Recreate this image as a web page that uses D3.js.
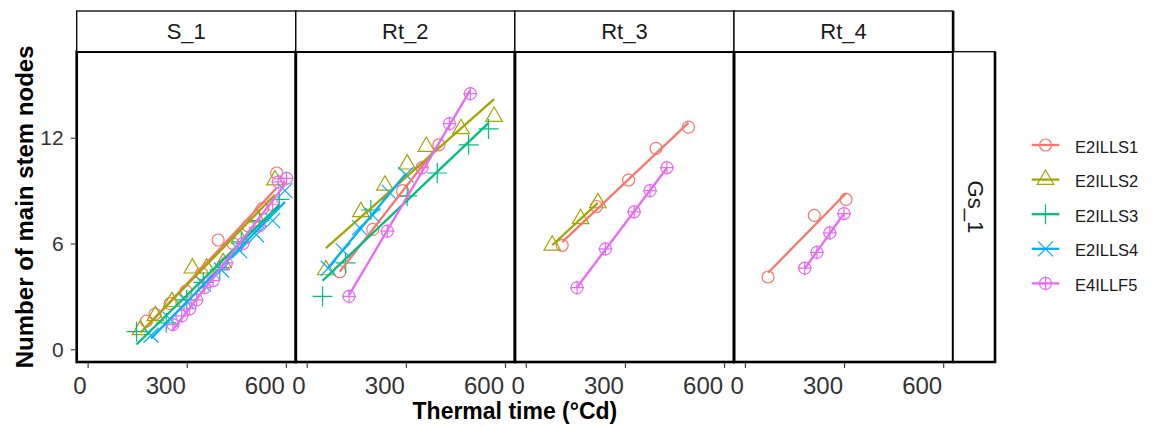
<!DOCTYPE html>
<html>
<head>
<meta charset="utf-8">
<script src="https://cdn.jsdelivr.net/npm/d3@7"></script>
<style>
  body { margin: 0; background: #fff; }
  svg { display: block; }
  text { font-family: "Liberation Sans", Arial, sans-serif; }
</style>
</head>
<body>
<div id="chart"></div>
<script>
// facet labels, series and ticks
var panels = ["S_1", "Rt_2", "Rt_3", "Rt_4"];
var rowLabel = "Gs_1";
var seriesNames = ["E2ILLS1", "E2ILLS2", "E2ILLS3", "E2ILLS4", "E4ILLF5"];
var xTicks = [0, 300, 600];
var yTicks = [0, 6, 12];

// thermal time (x) and main stem nodes (y), one inner list per series, per panel
var ttS1 = [
  [178, 204, 250, 298, 345, 395, 440, 486, 530, 572],
  [160, 205, 255, 317, 360, 410, 460, 510, 567],
  [148, 238, 300, 350, 400, 465, 520, 580],
  [192, 250, 300, 350, 405, 460, 511, 560, 597],
  [258, 285, 309, 330, 354, 380, 420, 470, 520, 560, 577, 602]
];
var nodesS1 = [
  [1.6, 2.0, 2.6, 3.3, 4.3, 6.2, 6.0, 7.0, 8.0, 10.0],
  [1.1, 1.9, 2.7, 4.6, 4.6, 4.9, 6.3, 7.5, 9.6],
  [1.0, 1.5, 2.8, 3.8, 4.5, 6.1, 7.3, 8.5],
  [0.8, 1.7, 2.7, 3.7, 4.5, 5.6, 6.5, 7.3, 9.0],
  [1.4, 1.9, 2.3, 2.8, 3.5, 3.9, 4.9, 6.0, 7.0, 8.2, 9.5, 9.7]
];
var ttRt2 = [
  [100, 200, 290, 400],
  [58, 164, 237, 304, 362, 467, 567],
  [48, 118, 194, 304, 395, 490, 550],
  [65, 110, 160, 200, 250, 300],
  [128, 244, 349, 432, 495]
];
var nodesRt2 = [
  [4.4, 6.8, 9.0, 11.6],
  [4.5, 7.8, 9.3, 10.5, 11.5, 12.5, 13.2],
  [3.0, 4.9, 7.9, 8.7, 10.0, 11.6, 12.5],
  [4.6, 5.6, 6.9, 7.6, 8.9, 9.9],
  [3.0, 6.7, 10.3, 12.8, 14.5]
];
var ttRt3 = [
  [110, 214, 311, 394, 492],
  [80, 166, 218],
  [],
  [],
  [155, 241, 328, 376, 427]
];
var nodesRt3 = [
  [5.9, 8.1, 9.6, 11.4, 12.6],
  [5.9, 7.4, 8.3],
  [],
  [],
  [3.5, 5.7, 7.8, 9.0, 10.3]
];
var ttRt4 = [
  [70, 210, 306],
  [],
  [],
  [],
  [181, 218, 257, 300]
];
var nodesRt4 = [
  [4.1, 7.6, 8.5],
  [],
  [],
  [],
  [4.6, 5.5, 6.6, 7.7]
];

var ttAll = [ttS1, ttRt2, ttRt3, ttRt4];
var nodesAll = [nodesS1, nodesRt2, nodesRt3, nodesRt4];

var colors = ["#F8766D", "#A3A500", "#00BF7D", "#00B0F6", "#E76BF3"];
var shapes = ["circle", "triangle", "plus", "cross", "circleplus"];

var W = 1152, H = 427;
var panelLeft = 76.7, panelW = 219.1, panelTop = 51.7, panelBottom = 362;
var stripTop = 11, stripRight = 995;

var svg = d3.select("#chart").append("svg")
  .attr("width", W)
  .attr("height", H);

var y = d3.scaleLinear().domain([-0.72, 16.88]).range([panelBottom, panelTop]);

function drawShape(g, shape, color) {
  if (shape === "circle") {
    g.append("circle").attr("r", 6);
  } else if (shape === "triangle") {
    g.append("path").attr("d", "M0,-9.6L8.3,4.8L-8.3,4.8Z");
  } else if (shape === "plus") {
    g.append("path").attr("d", "M-10,0H10M0,-10V10");
  } else if (shape === "cross") {
    g.append("path").attr("d", "M-7.5,-7.5L7.5,7.5M-7.5,7.5L7.5,-7.5");
  } else {
    g.append("circle").attr("r", 6);
    g.append("path").attr("d", "M-7,0H7M0,-7V7");
  }
  g.selectAll("*")
    .attr("fill", "none")
    .attr("stroke", color)
    .attr("stroke-width", 1.2);
}

// simple linear fit, like geom_smooth(method = "lm")
function fit(xs, ys) {
  var mx = d3.mean(xs), my = d3.mean(ys);
  var sxy = d3.sum(xs, function(v, i) { return (v - mx) * (ys[i] - my); });
  var sxx = d3.sum(xs, function(v) { return (v - mx) * (v - mx); });
  var b = sxy / sxx, a = my - b * mx;
  var x0 = d3.min(xs), x1 = d3.max(xs);
  return [[x0, a + b * x0], [x1, a + b * x1]];
}

panels.forEach(function(name, p) {
  var left = panelLeft + p * panelW;
  var x = d3.scaleLinear().domain([-33, 630]).range([left, left + panelW]);

  var g = svg.append("g");
  var plot = g.append("g");

  // points
  seriesNames.forEach(function(s, i) {
    var xs = ttAll[p][i], ys = nodesAll[p][i];
    xs.forEach(function(v, k) {
      var pt = plot.append("g")
        .attr("transform", "translate(" + x(v) + "," + y(ys[k]) + ")");
      drawShape(pt, shapes[i], colors[i]);
    });
  });

  // fitted lines
  seriesNames.forEach(function(s, i) {
    var xs = ttAll[p][i], ys = nodesAll[p][i];
    if (xs.length < 2) return;
    var ends = fit(xs, ys);
    plot.append("path")
      .attr("d", d3.line().x(function(d) { return x(d[0]); }).y(function(d) { return y(d[1]); })(ends))
      .attr("fill", "none")
      .attr("stroke", colors[i])
      .attr("stroke-width", 2.3);
  });

  // panel border
  g.append("rect")
    .attr("x", left).attr("y", panelTop)
    .attr("width", panelW).attr("height", panelBottom - panelTop)
    .attr("fill", "none").attr("stroke", "#000").attr("stroke-width", 2.6);

  // strip
  g.append("rect")
    .attr("x", left).attr("y", stripTop)
    .attr("width", panelW).attr("height", panelTop - stripTop)
    .attr("fill", "#fff").attr("stroke", "#000").attr("stroke-width", 1.3);
  g.append("text")
    .attr("x", left + panelW / 2).attr("y", (stripTop + panelTop) / 2 + 8)
    .attr("text-anchor", "middle")
    .attr("font-size", 22)
    .attr("fill", "#1a1a1a")
    .text(name);

  // x axis, labels sit just left of their tick
  var xa = g.append("g")
    .attr("transform", "translate(0," + panelBottom + ")")
    .call(d3.axisBottom(x).tickValues(xTicks).tickSize(6).tickPadding(9).tickFormat(d3.format("d")));
  xa.select(".domain").remove();
  xa.selectAll("line").attr("stroke", "#333").attr("stroke-width", 1.1);
  xa.selectAll("text").attr("font-size", 24).attr("fill", "#333")
    .attr("text-anchor", "end").attr("x", -1.5)
    .attr("font-family", "Liberation Sans, Arial, sans-serif");
});

// thick right edge on last top strip
svg.append("line")
  .attr("x1", panelLeft + 4 * panelW).attr("x2", panelLeft + 4 * panelW)
  .attr("y1", stripTop).attr("y2", panelTop)
  .attr("stroke", "#000").attr("stroke-width", 2.6);

// row strip on the right
var rs = svg.append("g");
var rsLeft = panelLeft + 4 * panelW;
rs.append("rect")
  .attr("x", rsLeft).attr("y", panelTop)
  .attr("width", stripRight - rsLeft).attr("height", panelBottom - panelTop)
  .attr("fill", "#fff").attr("stroke", "#000").attr("stroke-width", 1.3);
rs.append("path")
  .attr("d", "M" + stripRight + "," + panelTop + "V" + panelBottom + "H" + rsLeft)
  .attr("fill", "none").attr("stroke", "#000").attr("stroke-width", 2.6);
rs.append("text")
  .attr("transform", "translate(" + ((rsLeft + stripRight) / 2 - 6) + "," + ((panelTop + panelBottom) / 2) + ") rotate(90)")
  .attr("text-anchor", "middle")
  .attr("font-size", 22)
  .attr("fill", "#1a1a1a")
  .text(rowLabel);

// y axis on first panel
var ya = svg.append("g")
  .attr("transform", "translate(" + panelLeft + ",0)")
  .call(d3.axisLeft(y).tickValues(yTicks).tickSize(6).tickPadding(7));
ya.select(".domain").remove();
ya.selectAll("line").attr("stroke", "#333").attr("stroke-width", 1.1);
ya.selectAll("text").attr("font-size", 21).attr("fill", "#333")
  .attr("font-family", "Liberation Sans, Arial, sans-serif");

// axis titles
svg.append("text")
  .attr("x", panelLeft + 2 * panelW).attr("y", 419)
  .attr("text-anchor", "middle")
  .attr("font-size", 23).attr("font-weight", "bold")
  .text("Thermal time (\u00B0Cd)");
svg.append("text")
  .attr("transform", "translate(33," + ((panelTop + panelBottom) / 2) + ") rotate(-90)")
  .attr("text-anchor", "middle")
  .attr("font-size", 24).attr("font-weight", "bold")
  .text("Number of main stem nodes");

// legend
var lg = svg.append("g");
seriesNames.forEach(function(s, i) {
  var ry = 145 + i * 34.6;
  lg.append("line")
    .attr("x1", 1031.7).attr("x2", 1059.3).attr("y1", ry).attr("y2", ry)
    .attr("stroke", colors[i]).attr("stroke-width", 2.3);
  var k = lg.append("g").attr("transform", "translate(1045.5," + ry + ")");
  drawShape(k, shapes[i], colors[i]);
  lg.append("text")
    .attr("x", 1075).attr("y", ry + 7.5)
    .attr("font-size", 16.5)
    .attr("fill", "#1a1a1a")
    .text(s);
});
</script>
</body>
</html>
